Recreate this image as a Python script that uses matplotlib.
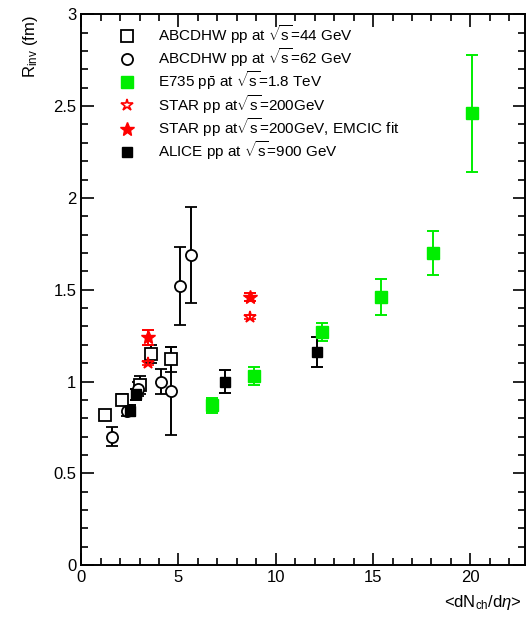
import matplotlib
matplotlib.use('Agg')
import matplotlib.pyplot as plt
from matplotlib.ticker import MultipleLocator, FormatStrFormatter
from matplotlib.lines import Line2D

plt.rcParams['font.family'] = ['Liberation Sans', 'DejaVu Sans']
plt.rcParams['mathtext.fontset'] = 'custom'
plt.rcParams['mathtext.rm'] = 'Liberation Sans'
plt.rcParams['mathtext.it'] = 'Liberation Sans:italic'

# ABCDHW pp at 44 GeV (open squares)
abc44_x = [1.2, 2.1, 3.0, 3.6, 4.6]
abc44_y = [0.82, 0.90, 0.98, 1.15, 1.12]
abc44_err = [0.02, 0.03, 0.05, 0.05, 0.07]

# ABCDHW pp at 62 GeV (open circles)
abc62_x = [1.6, 2.35, 2.9, 4.1, 4.6, 5.1, 5.65]
abc62_y = [0.70, 0.84, 0.96, 1.00, 0.95, 1.52, 1.69]
abc62_err = [0.05, 0.03, 0.04, 0.07, 0.24, 0.21, 0.26]

# E735 ppbar at 1.8 TeV (green filled squares)
e735_x = [6.7, 8.9, 12.4, 15.4, 18.1, 20.1]
e735_y = [0.87, 1.03, 1.27, 1.46, 1.70, 2.46]
e735_err = [0.04, 0.05, 0.05, 0.10, 0.12, 0.32]

# STAR pp at 200 GeV (open stars)
star_x = [3.45, 8.7]
star_y = [1.10, 1.35]
star_err = [0.01, 0.01]

# STAR pp at 200 GeV, EMCIC fit (filled stars)
emcic_x = [3.45, 8.7]
emcic_y = [1.24, 1.46]
emcic_err = [0.04, 0.02]

# ALICE pp at 900 GeV (black filled)
alice_x = [2.5, 2.8, 7.4, 12.1]
alice_y = [0.84, 0.93, 1.00, 1.16]
alice_err = [0.03, 0.03, 0.06, 0.08]

labels = [r'ABCDHW pp at $\sqrt{\mathrm{s}}$=44 GeV',
          r'ABCDHW pp at $\sqrt{\mathrm{s}}$=62 GeV',
          r'E735 p$\bar{\mathrm{p}}$ at $\sqrt{\mathrm{s}}$=1.8 TeV',
          r'STAR pp at$\sqrt{\mathrm{s}}$=200GeV',
          r'STAR pp at$\sqrt{\mathrm{s}}$=200GeV, EMCIC fit',
          r'ALICE pp at $\sqrt{\mathrm{s}}$=900 GeV']

green = '#00ee00'
styles = [
    dict(marker='s', ms=8, mfc='white', mec='black', mew=1.3, color='black'),
    dict(marker='o', ms=8, mfc='white', mec='black', mew=1.3, color='black'),
    dict(marker='s', ms=8, mfc=green, mec=green, color=green),
    dict(marker='*', ms=9, mfc='none', mec='red', mew=1.2, color='red'),
    dict(marker='*', ms=10, mfc='red', mec='red', color='red'),
    dict(marker='s', ms=7, mfc='black', mec='black', color='black'),
]
series = [(abc44_x, abc44_y, abc44_err), (abc62_x, abc62_y, abc62_err),
          (e735_x, e735_y, e735_err), (star_x, star_y, star_err),
          (emcic_x, emcic_y, emcic_err), (alice_x, alice_y, alice_err)]

fig = plt.figure(figsize=(5.27, 6.21), dpi=100)
ax = fig.add_axes([0.154, 0.090, 0.842, 0.887])

handles = []
for (x, y, e), st in zip(series, styles):
    ax.errorbar(x, y, yerr=e, capsize=4, elinewidth=1.4, capthick=1.4, linestyle='none', **st)
    handles.append(Line2D([], [], linestyle='none', **st))

ax.set_xlim(0, 22.8)
ax.set_ylim(0, 3)
ax.xaxis.set_major_locator(MultipleLocator(5))
ax.xaxis.set_minor_locator(MultipleLocator(1))
ax.yaxis.set_major_locator(MultipleLocator(0.5))
ax.yaxis.set_minor_locator(MultipleLocator(0.1))
ax.yaxis.set_major_formatter(FormatStrFormatter('%g'))
ax.tick_params(which='both', direction='in', top=True, right=True, labelsize=12, width=1.2)
ax.tick_params(which='major', length=9)
ax.tick_params(which='minor', length=5)
for s in ax.spines.values():
    s.set_linewidth(1.4)

fig.text(0.99, 0.015, r'<dN$_{\rm ch}$/d$\eta$>', ha='right', va='bottom', fontsize=12)
fig.text(0.058, 0.975, r'R$_{\rm inv}$ (fm)', ha='center', va='top', rotation=90, fontsize=12)

ax.legend(handles, labels, loc='upper left', bbox_to_anchor=(0.055, 1.009), frameon=False,
          fontsize=11, handletextpad=1.5, labelspacing=0.02, handlelength=1.0)

fig.savefig('out.png', dpi=100)
